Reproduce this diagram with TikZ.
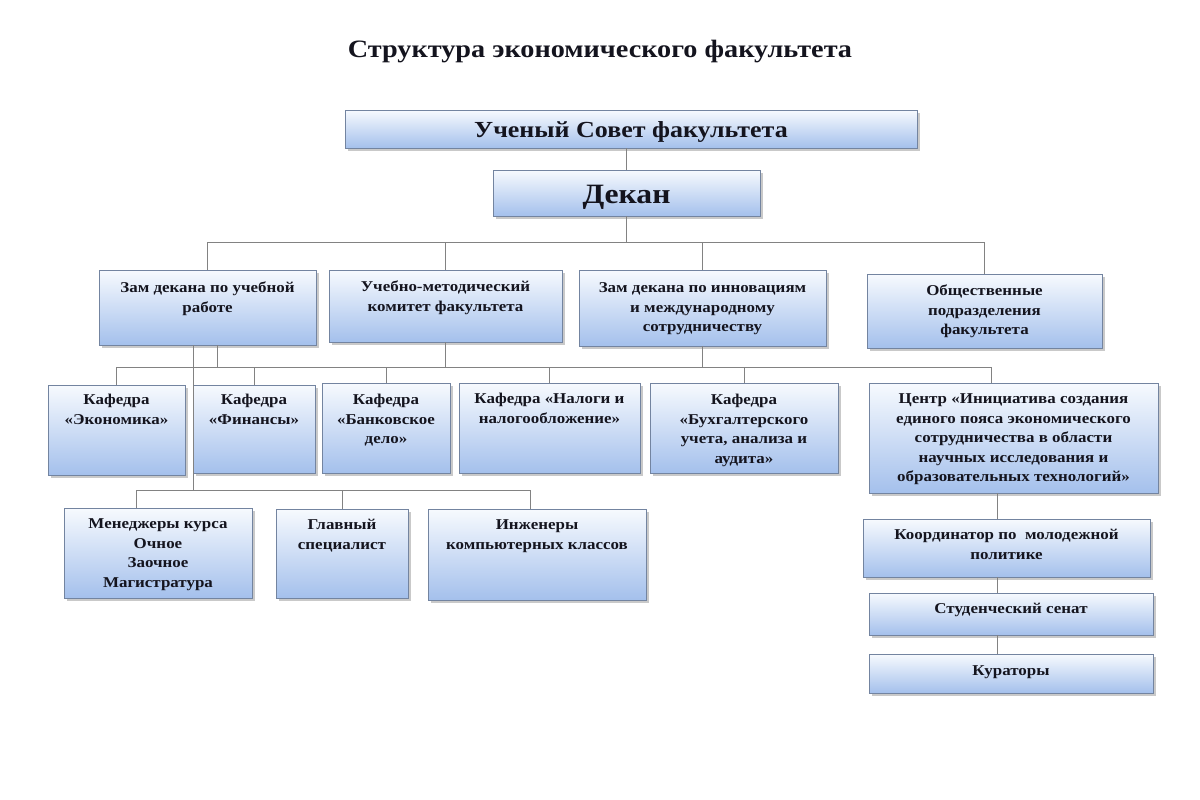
\documentclass[tikz,border=0pt]{standalone}
\usepackage{fontspec}
\setmainfont{Liberation Serif}[FakeStretch=1.13]
\usetikzlibrary{shadows}
\definecolor{boxtop}{RGB}{247,250,254}
\definecolor{boxbot}{RGB}{164,192,236}
\definecolor{boxline}{RGB}{115,132,160}
\definecolor{conn}{RGB}{130,130,130}
\definecolor{txt}{RGB}{20,20,30}
\newcommand{\fs}{\fontsize{15}{19.5}\selectfont}
\newcommand{\fsov}{\fontsize{23}{27}\selectfont}
\newcommand{\fdek}{\fontsize{28}{34}\selectfont}
\tikzset{
  orgbox/.style={draw=boxline, line width=0.9pt, top color=boxtop, bottom color=boxbot,
    inner sep=0pt, text=txt, drop shadow={shadow xshift=2.5pt, shadow yshift=-2.5pt, opacity=0.35, fill=black!60}},
  link/.style={draw=conn, line width=0.9pt}
}
% #1 name, #2 x1, #3 y1, #4 x2, #5 y2, #6 top pad, #7 font, #8 text
\newcommand{\orgnode}[8]{%
  \node[orgbox] (#1) at ({(#2+#4)/2},{(#3+#5)/2})
  {\parbox[c][\dimexpr#5pt-#3pt\relax][t]{\dimexpr#4pt-#2pt\relax}{\centering#7\bfseries\vspace*{#6pt}\strut #8\par}};%
}
\begin{document}
\begin{tikzpicture}[x=1pt,y=-1pt]
\useasboundingbox[fill=white] (0,0) rectangle (1200,800);
\node[text=txt] (title) at (600,52) {\fontsize{25}{29}\selectfont\bfseries Структура экономического факультета};

\orgnode{sovet}{345}{110}{917}{148}{8.6}{\fsov}{Ученый Совет факультета}
\orgnode{dekan}{493}{170}{760}{216}{9.5}{\fdek}{Декан}

\orgnode{zam1}{99}{270}{316}{345}{9}{\fs}{Зам декана по учебной\\работе}
\orgnode{umk}{329}{270}{562}{342}{8}{\fs}{Учебно-методический\\комитет факультета}
\orgnode{zam2}{579}{270}{826}{346}{9}{\fs}{Зам декана по инновациям\\и международному\\сотрудничеству}
\orgnode{obsh}{867}{274}{1102}{348}{8}{\fs}{Общественные\\подразделения\\факультета}

\orgnode{ekon}{48}{385}{185}{475}{6}{\fs}{Кафедра\\«Экономика»}
\orgnode{fin}{193}{385}{315}{473}{6}{\fs}{Кафедра\\«Финансы»}
\orgnode{bank}{322}{383}{450}{473}{8}{\fs}{Кафедра\\«Банковское\\дело»}
\orgnode{nalog}{459}{383}{640}{473}{7}{\fs}{Кафедра «Налоги и\\налогообложение»}
\orgnode{buh}{650}{383}{838}{473}{8}{\fs}{Кафедра\\«Бухгалтерского\\учета, анализа и\\аудита»}
\orgnode{centr}{869}{383}{1158}{493}{7}{\fs}{Центр «Инициатива создания\\единого пояса экономического\\сотрудничества в области\\научных исследования и\\образовательных технологий»}

\orgnode{men}{64}{508}{252}{598}{7}{\fs}{Менеджеры курса\\Очное\\Заочное\\Магистратура}
\orgnode{glav}{276}{509}{408}{598}{7}{\fs}{Главный\\специалист}
\orgnode{inzh}{428}{509}{646}{600}{7}{\fs}{Инженеры\\компьютерных классов}

\orgnode{koord}{863}{519}{1150}{577}{7}{\fs}{Координатор по~ молодежной\\политике}
\orgnode{senat}{869}{593}{1153}{635}{7}{\fs}{Студенческий сенат}
\orgnode{kur}{869}{654}{1153}{693}{8}{\fs}{Кураторы}

\coordinate (bus1) at (0,242);
\coordinate (bus2) at (0,367);
\coordinate (bus3) at (0,490);

\draw[link] (sovet.south -| dekan.north) -- (dekan.north);
\draw[link] (dekan.south) -- (dekan.south |- bus1);
\draw[link] (zam1.north |- bus1) -- (obsh.north |- bus1);
\foreach \n in {zam1,umk,zam2,obsh} \draw[link] (\n.north) -- (\n.north |- bus1);

\draw[link] ([xshift=9.5pt]zam1.south) -- ([xshift=9.5pt]zam1.south |- bus2);
\draw[link] (umk.south) -- (umk.south |- bus2);
\draw[link] (zam2.south) -- (zam2.south |- bus2);
\draw[link] (ekon.north |- bus2) -- ([xshift=-22.5pt]centr.north |- bus2) -- ([xshift=-22.5pt]centr.north);
\foreach \n in {ekon,fin,bank,nalog,buh} \draw[link] (\n.north) -- (\n.north |- bus2);

\draw[link] ([xshift=-14.5pt]zam1.south) -- ([xshift=-14.5pt]zam1.south |- bus3);
\draw[link] ([xshift=-22pt]men.north) -- ([xshift=-22pt]men.north |- bus3) -- ([xshift=-7pt]inzh.north |- bus3) -- ([xshift=-7pt]inzh.north);
\draw[link] (glav.north) -- (glav.north |- bus3);

\draw[link] ([xshift=-16.5pt]centr.south) -- ([xshift=-16.5pt]centr.south |- koord.north);
\draw[link] ([xshift=-16.5pt]centr.south |- koord.south) -- ([xshift=-16.5pt]centr.south |- senat.north);
\draw[link] ([xshift=-16.5pt]centr.south |- senat.south) -- ([xshift=-16.5pt]centr.south |- kur.north);
\end{tikzpicture}
\end{document}
